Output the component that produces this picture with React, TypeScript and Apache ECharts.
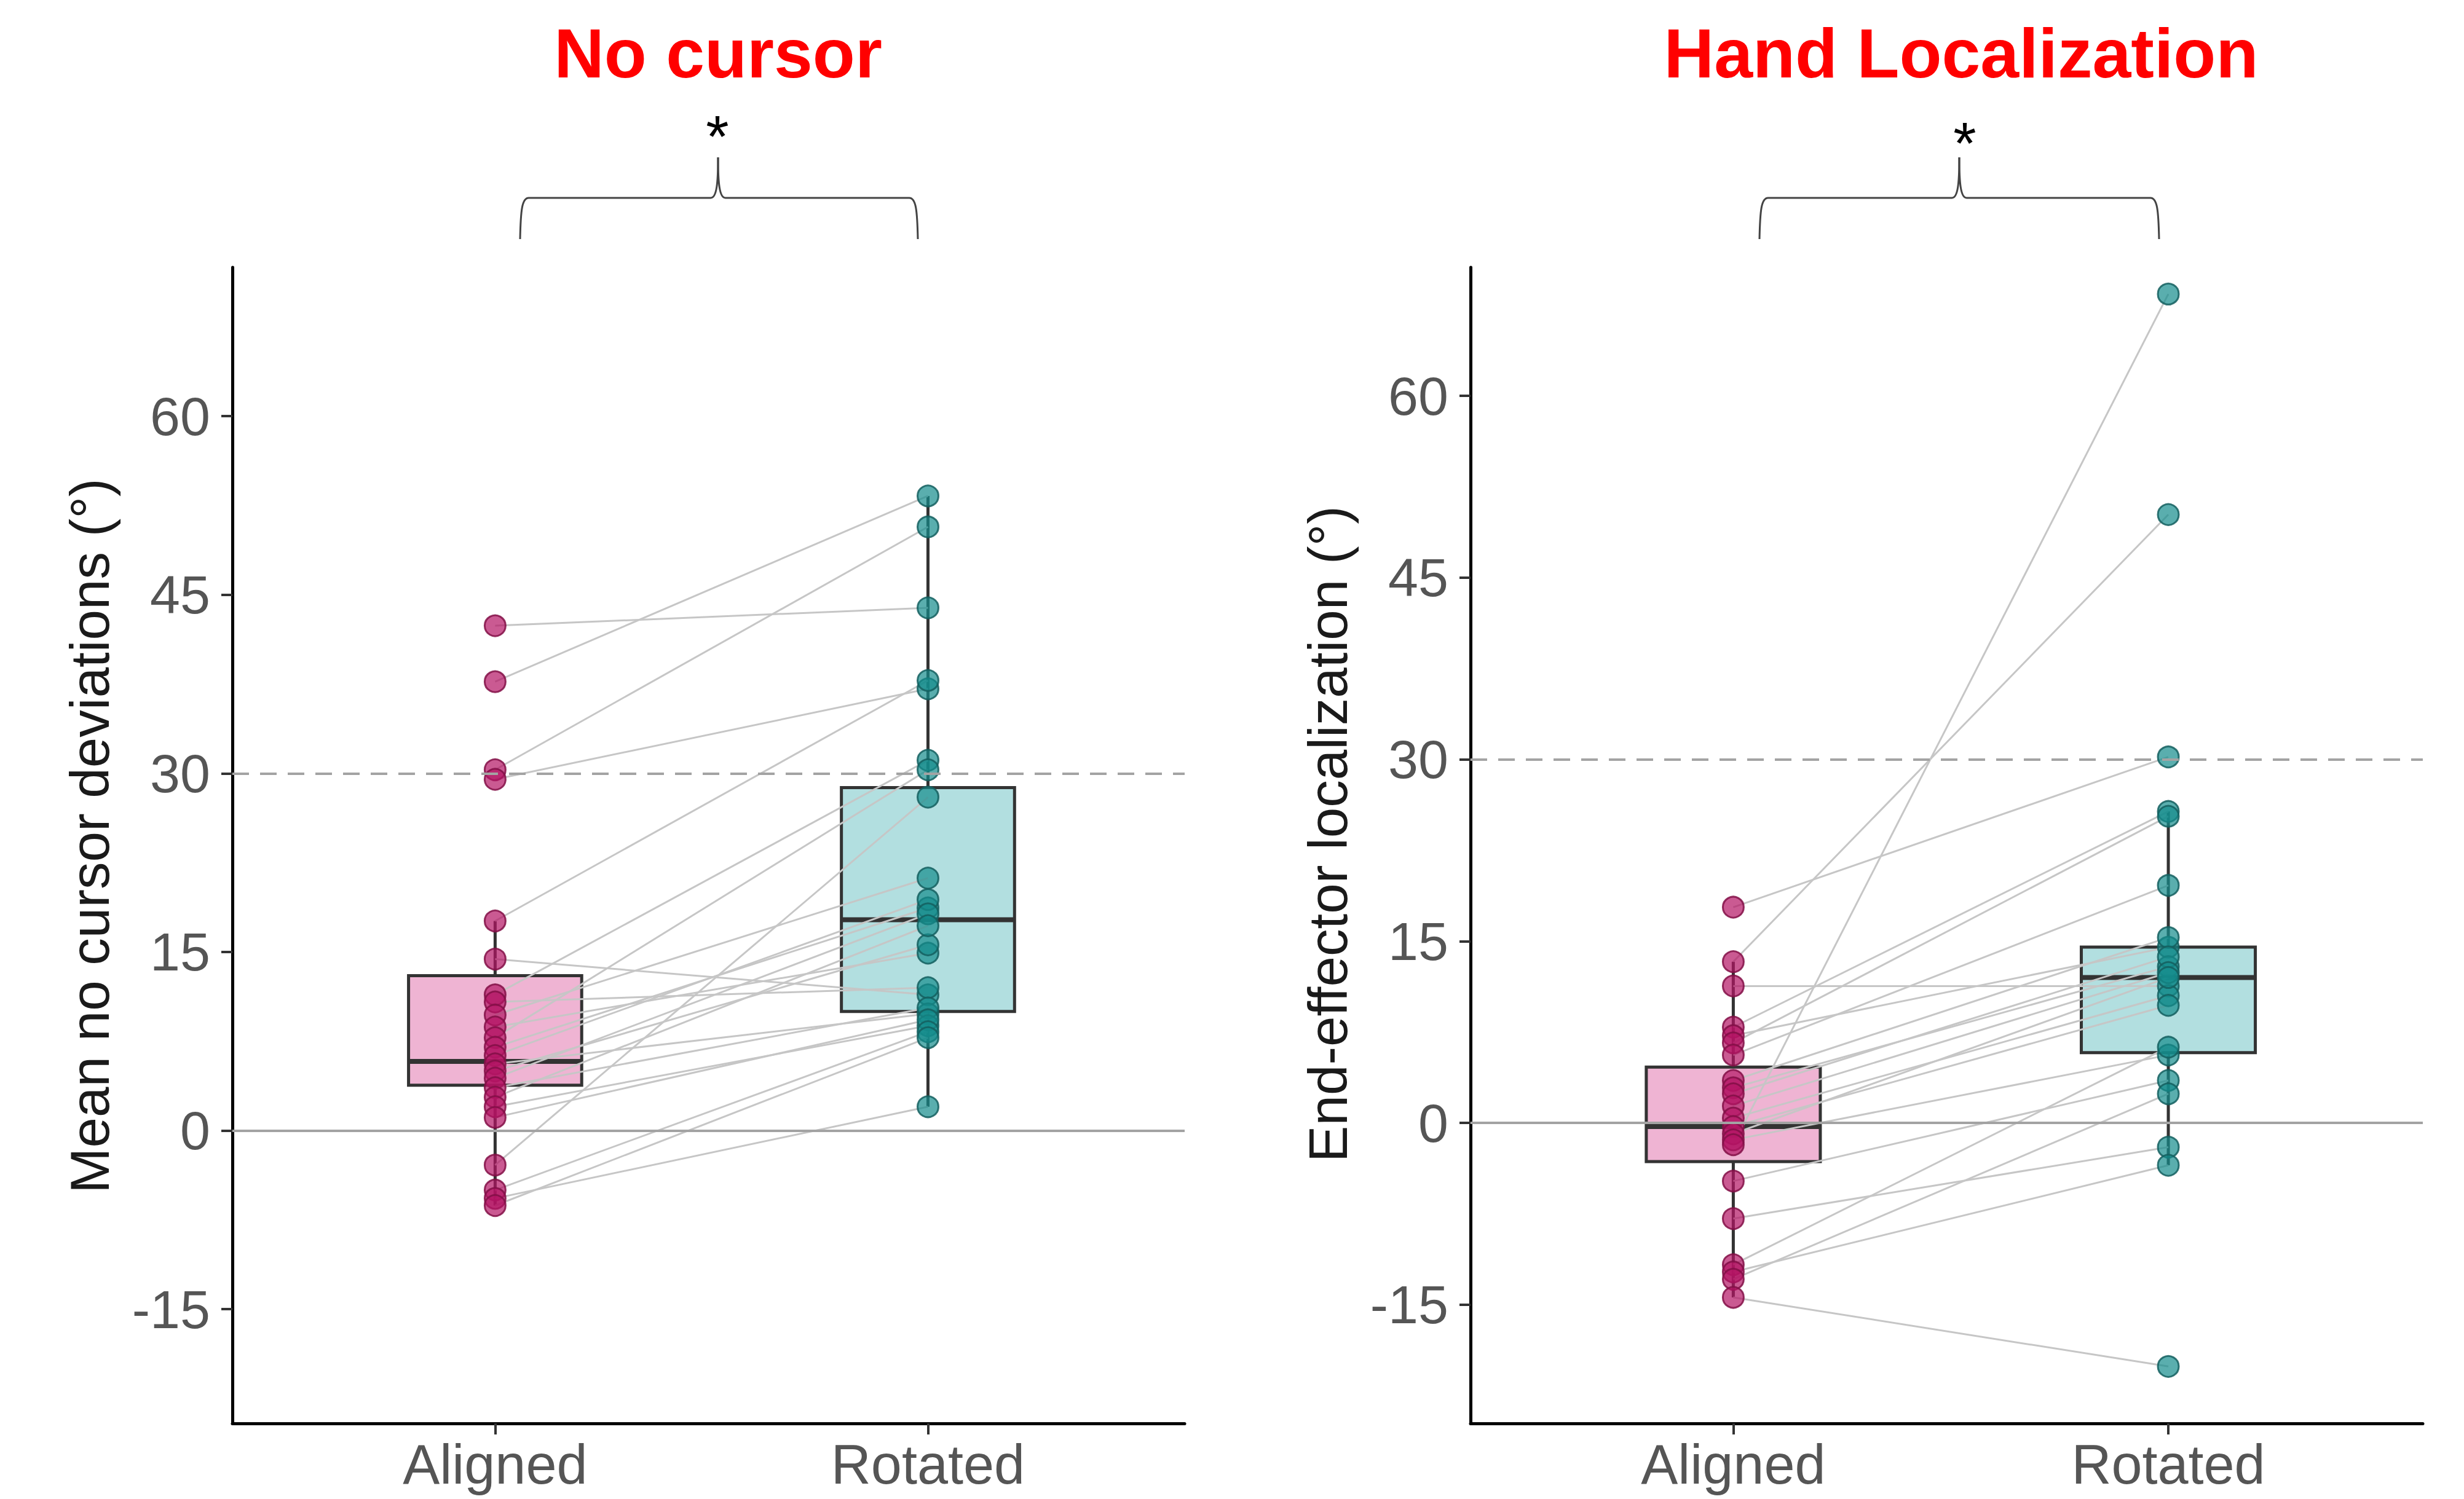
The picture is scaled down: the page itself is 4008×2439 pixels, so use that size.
import React, { useEffect, useRef } from 'react';
import * as echarts from 'echarts';

const FONT = '"Liberation Sans", Arial, sans-serif';

const categories = ['Aligned', 'Rotated'];
const yTicks = [-15, 0, 15, 30, 45, 60];

// Panel 1: No cursor (index = participant, aligned -> rotated)
const noCursorAligned = [42.4, 37.7, 30.3, 29.5, 17.6, 14.4, 11.4, 10.8, 9.7, 8.7, 7.8, 7.0, 6.3, 5.6, 5.0, 4.4, 3.6, 2.8, 2.0, 1.1, -2.9, -5.0, -5.7, -6.3];
const noCursorRotated = [43.9, 53.3, 50.7, 37.1, 37.8, 11.4, 31.1, 12.0, 21.2, 14.9, 30.3, 18.7, 19.4, 9.8, 15.6, 18.2, 10.3, 17.2, 8.8, 9.3, 28.0, 8.3, 2.0, 7.8];
// box stats: [lower whisker, Q1, median, Q3, upper whisker]
const noCursorBoxAligned = [-6.3, 3.8, 5.8, 13.0, 17.6];
const noCursorBoxRotated = [2.0, 10.0, 17.7, 28.8, 53.3];

// Panel 2: Hand Localization
const handLocAligned = [17.8, 13.3, 11.3, 7.9, 7.2, 6.6, 5.6, 3.5, 2.9, 2.4, 1.4, 0.4, -0.3, -0.9, -1.4, -1.8, -4.8, -7.9, -11.7, -12.3, -12.9, -14.4];
const handLocRotated = [30.2, 50.2, 11.3, 25.7, 14.5, 25.3, 19.6, 15.3, 12.9, 13.7, 12.4, 10.5, 9.7, 12.0, 5.6, 68.4, 3.5, -2.0, 6.25, -3.5, 2.4, -20.1];
const handLocBoxAligned = [-14.4, -3.2, -0.3, 4.6, 13.3];
const handLocBoxRotated = [-3.5, 5.8, 12.0, 14.5, 25.7];

const refDashed = 30;
const refSolid = 0;

const boxFills = ['#EFB4D3', '#B2DFE0'];
const pointFill = ['rgba(180, 20, 100, 0.7)', 'rgba(20, 140, 140, 0.7)'];
const pointBorder = ['rgba(130, 15, 70, 0.85)', 'rgba(20, 95, 95, 0.85)'];

function makeX(gi: number, min: number, max: number) {
  return {
    type: 'value', gridIndex: gi, min, max,
    axisLine: { show: true, onZero: false, lineStyle: { color: '#000', width: 5 } },
    axisTick: { show: true, length: 18, customValues: [1, 2], lineStyle: { color: '#333', width: 4 } },
    axisLabel: {
      show: true, customValues: [1, 2],
      formatter: (v: number) => categories[Math.round(v) - 1] || '',
      fontSize: 90, color: '#555', margin: 22, fontFamily: FONT,
    },
    splitLine: { show: false },
  };
}

function makeY(gi: number, min: number, max: number) {
  return {
    type: 'value', gridIndex: gi, min, max,
    axisLine: { show: true, onZero: false, lineStyle: { color: '#000', width: 5 } },
    axisTick: { show: true, length: 18, customValues: yTicks, lineStyle: { color: '#333', width: 4 } },
    axisLabel: { show: true, customValues: yTicks, fontSize: 88, color: '#555', margin: 36, fontFamily: FONT },
    splitLine: { show: false },
  };
}

function panelSeries(gi: number, aligned: number[], rotated: number[], boxA: number[], boxR: number[]) {
  return [
    {
      type: 'line', xAxisIndex: gi, yAxisIndex: gi, data: [], silent: true, z: 1,
      markLine: {
        silent: true, symbol: 'none', label: { show: false }, animation: false,
        data: [
          { yAxis: refDashed, lineStyle: { type: [27, 18], color: '#a3a3a3', width: 4 } },
          { yAxis: refSolid, lineStyle: { type: 'solid', color: '#a3a3a3', width: 4 } },
        ],
      },
    },
    {
      type: 'custom', xAxisIndex: gi, yAxisIndex: gi, silent: true, z: 2,
      data: [boxA, boxR].map((b, i) => [i + 1, ...b]),
      renderItem: (params: any, api: any) => {
        const x = api.value(0);
        const lo = api.coord([x, api.value(1)]);
        const q1 = api.coord([x, api.value(2)]);
        const med = api.coord([x, api.value(3)]);
        const q3 = api.coord([x, api.value(4)]);
        const hi = api.coord([x, api.value(5)]);
        const w = api.size([0.4, 0])[0];
        const st = { stroke: '#333', lineWidth: 5 };
        return {
          type: 'group',
          children: [
            { type: 'line', shape: { x1: hi[0], y1: hi[1], x2: q3[0], y2: q3[1] }, style: st },
            { type: 'line', shape: { x1: q1[0], y1: q1[1], x2: lo[0], y2: lo[1] }, style: st },
            { type: 'rect', shape: { x: q3[0] - w / 2, y: q3[1], width: w, height: q1[1] - q3[1] }, style: { fill: boxFills[params.dataIndex], stroke: '#333', lineWidth: 5 } },
            { type: 'line', shape: { x1: med[0] - w / 2, y1: med[1], x2: med[0] + w / 2, y2: med[1] }, style: { stroke: '#333', lineWidth: 8 } },
          ],
        };
      },
    },
    {
      type: 'lines', coordinateSystem: 'cartesian2d', xAxisIndex: gi, yAxisIndex: gi, silent: true, z: 3,
      data: aligned.map((a, i) => ({ coords: [[1, a], [2, rotated[i]]] })),
      lineStyle: { color: '#c6c6c6', width: 3, opacity: 1, curveness: 0 },
    },
    ...[aligned, rotated].map((vals, ci) => ({
      type: 'scatter', xAxisIndex: gi, yAxisIndex: gi, silent: true, z: 4,
      data: vals.map((v) => [ci + 1, v]),
      symbol: 'circle', symbolSize: 34,
      itemStyle: { color: pointFill[ci], borderColor: pointBorder[ci], borderWidth: 3, opacity: 1 },
    })),
  ];
}

function brace(x0: number, x1: number, xc: number, yBar: number, yTail: number, yPeak: number) {
  const st = { stroke: '#444', lineWidth: 3 };
  return [
    { type: 'bezierCurve', shape: { x1: x0, y1: yTail, cpx1: x0 + 1, cpy1: yBar + 20, cpx2: x0 + 3, cpy2: yBar, x2: x0 + 14, y2: yBar }, style: st },
    { type: 'line', shape: { x1: x0 + 14, y1: yBar, x2: xc - 12, y2: yBar }, style: st },
    { type: 'bezierCurve', shape: { x1: xc - 12, y1: yBar, cpx1: xc - 2, cpy1: yBar, cpx2: xc, cpy2: yBar - 25, x2: xc, y2: yPeak }, style: st },
    { type: 'bezierCurve', shape: { x1: xc, y1: yPeak, cpx1: xc, cpy1: yBar - 25, cpx2: xc + 2, cpy2: yBar, x2: xc + 12, y2: yBar }, style: st },
    { type: 'line', shape: { x1: xc + 12, y1: yBar, x2: x1 - 14, y2: yBar }, style: st },
    { type: 'bezierCurve', shape: { x1: x1 - 14, y1: yBar, cpx1: x1 - 3, cpy1: yBar, cpx2: x1 - 1, cpy2: yBar + 20, x2: x1, y2: yTail }, style: st },
  ];
}

export default function App() {
  const ref = useRef<HTMLDivElement>(null);
  useEffect(() => {
    const chart = echarts.init(ref.current!, null, { renderer: 'svg' });
    const option: any = {
      animation: false,
      backgroundColor: '#ffffff',
      grid: [
        { left: 378, top: 435, width: 1549, height: 1881 },
        { left: 2392, top: 435, width: 1549, height: 1881 },
      ],
      xAxis: [makeX(0, 0.393, 2.593), makeX(1, 0.396, 2.585)],
      yAxis: [makeY(0, -24.6, 72.5), makeY(1, -24.8, 70.6)],
      series: [
        ...panelSeries(0, noCursorAligned, noCursorRotated, noCursorBoxAligned, noCursorBoxRotated),
        ...panelSeries(1, handLocAligned, handLocRotated, handLocBoxAligned, handLocBoxRotated),
      ],
      graphic: [
        { type: 'text', x: 1168, y: 87, style: { text: 'No cursor', fill: '#ff0000', font: `bold 113px ${FONT}`, textAlign: 'center', textVerticalAlign: 'middle' } },
        { type: 'text', x: 3190, y: 87, style: { text: 'Hand Localization', fill: '#ff0000', font: `bold 113px ${FONT}`, textAlign: 'center', textVerticalAlign: 'middle' } },
        { type: 'text', x: 1167, y: 221, style: { text: '*', fill: '#000', font: `96px ${FONT}`, textAlign: 'center', textVerticalAlign: 'middle' } },
        { type: 'text', x: 3196, y: 232, style: { text: '*', fill: '#000', font: `96px ${FONT}`, textAlign: 'center', textVerticalAlign: 'middle' } },
        ...brace(846, 1493, 1168, 322, 389, 256),
        ...brace(2862, 3512, 3187, 322, 389, 256),
        { type: 'text', x: 146, y: 1360, rotation: Math.PI / 2, style: { text: 'Mean no cursor deviations (°)', fill: '#1a1a1a', font: `89px ${FONT}`, textAlign: 'center', textVerticalAlign: 'middle' } },
        { type: 'text', x: 2160, y: 1357, rotation: Math.PI / 2, style: { text: 'End-effector localization (°)', fill: '#1a1a1a', font: `89px ${FONT}`, textAlign: 'center', textVerticalAlign: 'middle' } },
      ],
    };
    chart.setOption(option);
    return () => chart.dispose();
  }, []);
  return <div ref={ref} style={{ position: 'fixed', left: 0, top: 0, width: 4008, height: 2439, background: '#fff' }} />;
}
